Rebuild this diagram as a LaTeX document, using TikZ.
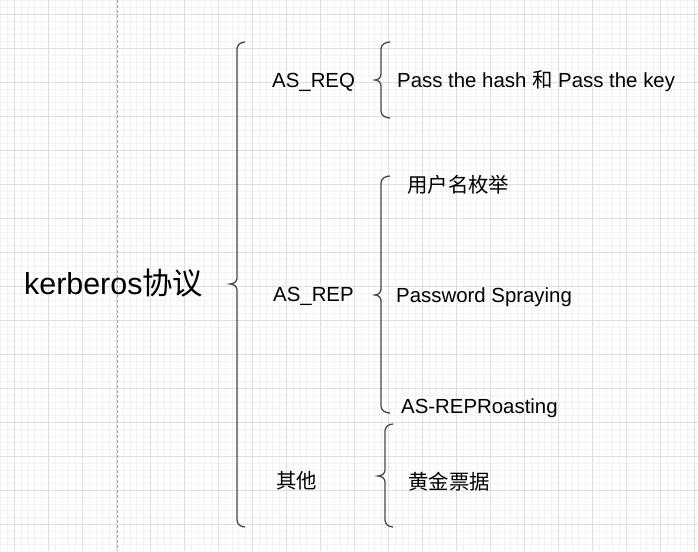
\documentclass[tikz,border=0pt]{standalone}
\usepackage{fontspec}
\setmainfont{Liberation Sans}
\newfontfamily\cjk{Noto Sans CJK SC}
\usepackage{tikz}
\usetikzlibrary{arrows.meta}

\tikzset{
  gridminor/.style={draw=black!5, line width=0.7pt},
  gridmajor/.style={draw=black!13, line width=0.9pt},
  guide/.style={draw=black!35, line width=0.9pt, dash pattern=on 3pt off 2pt},
  curlybrace/.style={draw=black!72, line width=1.3pt},
  leaf/.style={anchor=base west, inner sep=0pt, font=\fontsize{20.4}{24}\selectfont},
  rootlabel/.style={anchor=base west, inner sep=0pt, font=\fontsize{30.4}{36}\selectfont},
}

% #1 x of the stem, #2 top, #3 tip, #4 bottom, #5 hook length, #6 tip length
\newcommand{\curly}[6]{%
  \draw[curlybrace] (#1+#5,#2) to[out=180,in=90] (#1,#2+7) -- (#1,#3-6)
    to[out=-90,in=0] (#1-#6,#3) to[out=0,in=90] (#1,#3+6) -- (#1,#4-7)
    to[out=-90,in=180] (#1+#5,#4);}

\begin{document}
\begin{tikzpicture}[x=1pt,y=-1pt]
        \useasboundingbox (0,0) rectangle (698,551);
        \fill[white] (0,0) rectangle (698,551);

        \foreach \i in {0,...,102}
            \draw[gridminor] (0.7+6.8*\i,0) -- (0.7+6.8*\i,551);
        \foreach \j in {0,...,80}
            \draw[gridminor] (0,0.7+6.8*\j) -- (698,0.7+6.8*\j);
        \foreach \i in {0,...,20}
            \draw[gridmajor] (14.3+34*\i,0) -- (14.3+34*\i,551);
        \foreach \j in {0,...,15}
            \draw[gridmajor] (0,14.3+34*\j) -- (698,14.3+34*\j);

        \draw[guide] (117,0) -- (117,551);

        \node[rootlabel] (kerberos) at (24,294) {kerberos{\cjk 协议}};

        \curly{237}{42}{284}{527}{8}{7}

        \node[leaf] (asreq) at (272,87) {AS\_REQ};
        \node[leaf] (asrep) at (273,301) {AS\_REP};
        \node[leaf] (other) at (276,488) {\cjk 其他};

        \curly{381}{42}{80}{118}{9}{6}
        \curly{381}{176}{295}{413}{9}{6}
        \curly{385}{424}{476}{527}{8}{7}

        \node[leaf] (pth) at (397,87) {Pass the hash {\cjk 和} Pass the key};
        \node[leaf] (userenum) at (407,192) {\cjk 用户名枚举};
        \node[leaf] (spray) at (396,302) {Password Spraying};
        \node[leaf] (roast) at (401,413) {AS-REPRoasting};
        \node[leaf] (golden) at (408,489) {\cjk 黄金票据};

    \end{tikzpicture}
\end{document}
